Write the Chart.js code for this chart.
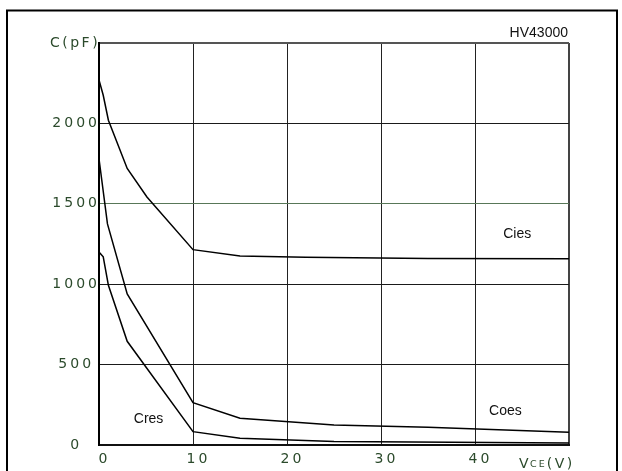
<!DOCTYPE html>
<html>
<head>
<meta charset="utf-8">
<script src="https://cdn.jsdelivr.net/npm/chart.js@4.4.1/dist/chart.umd.min.js"></script>
<style>
  html, body { margin: 0; padding: 0; background: #fff; }
  canvas { display: block; }
</style>
</head>
<body>
<canvas id="capChart" width="622" height="471"></canvas>
<script>
// values (VCE in volts, C in pF)
const ciesV = [0, 0.45, 1, 3, 5.1, 10, 15, 22, 35, 50];
const ciesPF = [2270, 2175, 2020, 1720, 1542, 1215, 1176, 1168, 1160, 1158];
const coesV = [0, 0.9, 3, 10, 15, 25, 35, 50];
const coesPF = [1780, 1375, 940, 263, 166, 124, 110, 80];
const cresV = [0, 0.45, 1, 3, 10, 15, 25, 50];
const cresPF = [1200, 1170, 993, 645, 83, 42, 22, 12];
const curveNames = ['Cies', 'Coes', 'Cres'];
const xTickLabels = ['0', '10', '20', '30', '40', ''];
const yTickLabels = ['0', '500', '1000', '1500', '2000', ''];

const GREEN = '#2b4a2b';
const toPoints = (xs, ys) => xs.map((v, i) => ({ x: v, y: ys[i] }));

const decor = {
  id: 'decor',
  beforeUpdate(chart) {
    chart.ctx.letterSpacing = '3px';
  },
  afterDraw(chart) {
    const { ctx, scales: { x, y } } = chart;
    ctx.save();

    // page frame
    ctx.strokeStyle = '#000';
    ctx.lineWidth = 2;
    ctx.beginPath();
    ctx.moveTo(7, 471);
    ctx.lineTo(7, 10.5);
    ctx.lineTo(617, 10.5);
    ctx.lineTo(617, 471);
    ctx.stroke();

    // curve names
    ctx.letterSpacing = '0px';
    ctx.font = '14px Arial';
    ctx.fillStyle = '#111';
    ctx.textBaseline = 'middle';
    ctx.textAlign = 'left';
    const at = [[43, 1311], [41.5, 211], [3.7, 161]];
    curveNames.forEach((name, i) => {
      ctx.fillText(name, x.getPixelForValue(at[i][0]), y.getPixelForValue(at[i][1]));
    });

    ctx.textAlign = 'right';
    ctx.fillText('HV43000', x.right - 1, 33);

    // axis titles
    ctx.fillStyle = GREEN;
    ctx.textAlign = 'left';
    ctx.letterSpacing = '2.5px';
    ctx.font = '14px "DejaVu Sans"';
    ctx.fillText('C(pF)', 50, y.top);

    let px = 519;
    const py = 464;
    ctx.fillText('V', px, py);
    px += ctx.measureText('V').width - 1;
    ctx.font = '9.5px "DejaVu Sans"';
    ctx.letterSpacing = '2px';
    ctx.fillText('CE', px, py + 1);
    px += ctx.measureText('CE').width;
    ctx.font = '14px "DejaVu Sans"';
    ctx.letterSpacing = '2.5px';
    ctx.fillText('(V)', px, py);

    ctx.restore();
  }
};

const datasets = [
  [ciesV, ciesPF],
  [coesV, coesPF],
  [cresV, cresPF]
].map(([xs, ys], i) => ({
  label: curveNames[i],
  data: toPoints(xs, ys),
  borderColor: '#000',
  borderWidth: 1.5,
  pointRadius: 0,
  tension: 0,
  fill: false
}));

new Chart(document.getElementById('capChart'), {
  type: 'line',
  data: { datasets },
  options: {
    responsive: false,
    animation: false,
    layout: { padding: { left: 40, right: 53, top: 43, bottom: 0 } },
    plugins: {
      legend: { display: false },
      tooltip: { enabled: false }
    },
    scales: {
      x: {
        type: 'linear',
        min: 0,
        max: 50,
        afterFit: s => { s.height = 26; },
        ticks: {
          stepSize: 10,
          padding: 6,
          labelOffset: 5.5,
          color: GREEN,
          font: { family: 'DejaVu Sans', size: 14 },
          callback: (v, i) => xTickLabels[i]
        },
        grid: {
          drawTicks: false,
          color: c => c.tick && c.tick.value === 50 ? '#444' : '#222',
          lineWidth: c => c.tick && c.tick.value === 50 ? 2 : 1
        },
        border: { color: '#111', width: 2 }
      },
      y: {
        min: 0,
        max: 2500,
        afterFit: s => { s.width = 59; },
        ticks: {
          stepSize: 500,
          padding: -1,
          crossAlign: 'center',
          color: GREEN,
          font: { family: 'DejaVu Sans', size: 14 },
          callback: (v, i) => yTickLabels[i]
        },
        grid: {
          drawTicks: false,
          color: c => {
            if (!c.tick) return '#222';
            if (c.tick.value === 1500) return '#587758';
            if (c.tick.value === 2500) return '#555';
            return '#1a1a1a';
          },
          lineWidth: c => c.tick && c.tick.value === 2500 ? 2 : 1
        },
        border: { color: '#000', width: 2 }
      }
    }
  },
  plugins: [decor]
});
</script>
</body>
</html>
